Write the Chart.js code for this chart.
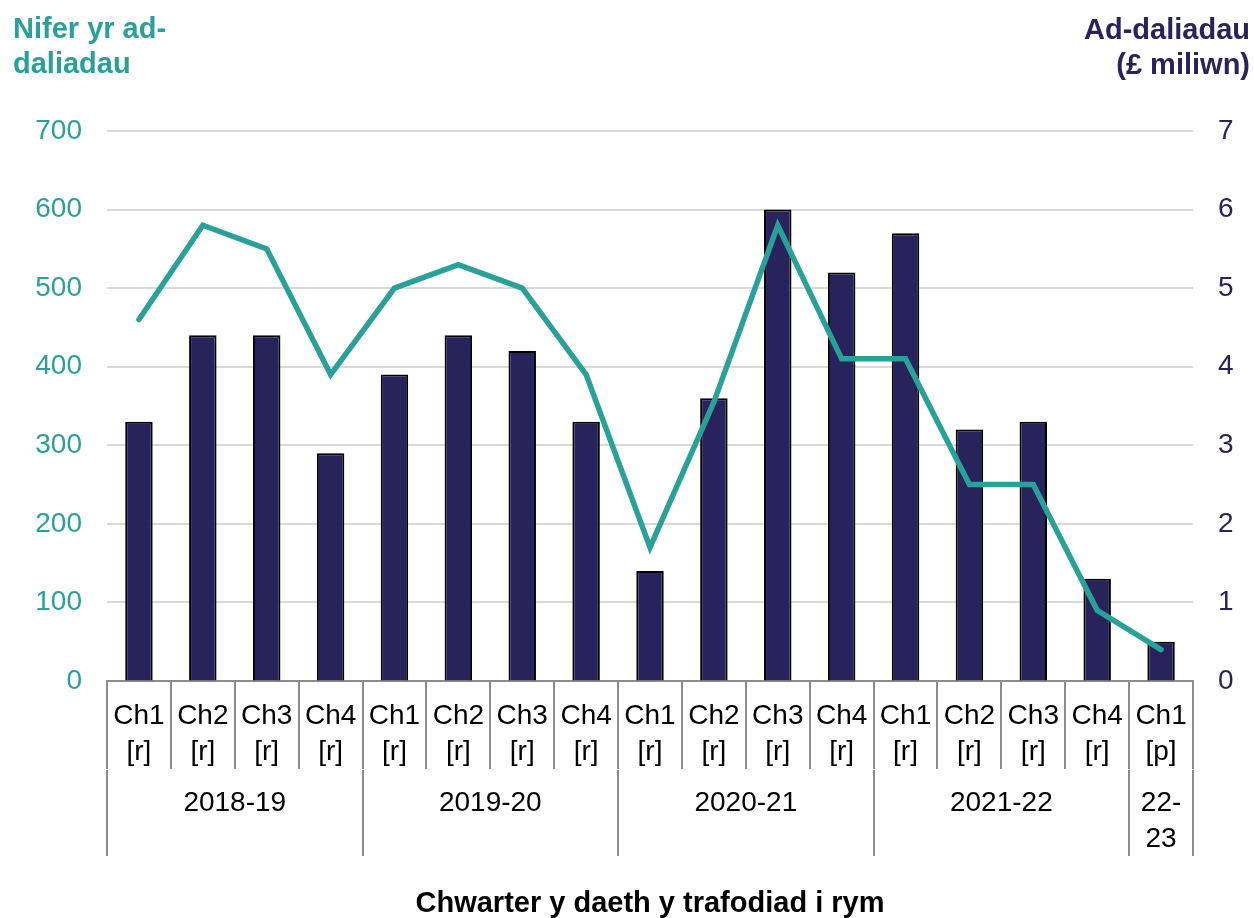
<!DOCTYPE html>
<html>
<head>
<meta charset="utf-8">
<script src="https://cdn.jsdelivr.net/npm/chart.js@4/dist/chart.umd.min.js"></script>
<style>
  html, body { margin: 0; padding: 0; background: #ffffff; }
  #wrap { width: 1254px; height: 918px; position: relative; }
</style>
</head>
<body>
<div id="wrap"><canvas id="c" width="1254" height="918"></canvas></div>
<script>
// ---- Data ----
const quarterLabels = [
  ['Ch1','[r]'],['Ch2','[r]'],['Ch3','[r]'],['Ch4','[r]'],
  ['Ch1','[r]'],['Ch2','[r]'],['Ch3','[r]'],['Ch4','[r]'],
  ['Ch1','[r]'],['Ch2','[r]'],['Ch3','[r]'],['Ch4','[r]'],
  ['Ch1','[r]'],['Ch2','[r]'],['Ch3','[r]'],['Ch4','[r]'],
  ['Ch1','[p]']
];
const yearLabels = ['2018-19','2019-20','2020-21','2021-22',['22-','23']];
const yearSpans = [4,4,4,4,1];
// Number of repayments (left axis)
const repaymentCount = [460,580,550,390,500,530,500,390,170,355,580,410,410,250,250,90,40];
// Repayments, £ million (right axis)
const repaymentMillions = [3.3,4.4,4.4,2.9,3.9,4.4,4.2,3.3,1.4,3.6,6.0,5.2,5.7,3.2,3.3,1.3,0.5];
const leftTitle = ['Nifer yr ad-','daliadau'];
const rightTitle = ['Ad-daliadau','(£ miliwn)'];
const xTitle = 'Chwarter y daeth y trafodiad i rym';

// ---- Styles ----
const TEAL = '#2aa198';
const NAVY = '#29235c';
const GRID = '#d9d9d9';
const AXIS = '#8c8c8c';
const FONT = "'Liberation Sans', Arial, sans-serif";

// year group boundaries and centres (in category index units)
const yearBounds = [-0.5];
const yearCentres = [];
{
  let start = -0.5;
  yearSpans.forEach(s => {
    yearCentres.push(start + s / 2);
    start += s;
    yearBounds.push(start);
  });
}

const titlesPlugin = {
  id: 'cornerTitles',
  afterDraw(chart) {
    const ctx = chart.ctx;
    ctx.save();
    ctx.font = "bold 29px " + FONT;
    ctx.textBaseline = 'alphabetic';
    ctx.fillStyle = TEAL;
    ctx.textAlign = 'left';
    leftTitle.forEach((t, i) => ctx.fillText(t, 13, 38 + i * 35));
    ctx.fillStyle = NAVY;
    ctx.textAlign = 'right';
    rightTitle.forEach((t, i) => ctx.fillText(t, 1250, 39 + i * 35));
    ctx.restore();
  }
};

new Chart(document.getElementById('c'), {
  type: 'bar',
  data: {
    labels: quarterLabels,
    datasets: [
      {
        type: 'line',
        label: 'Nifer yr ad-daliadau',
        data: repaymentCount,
        yAxisID: 'y',
        xAxisID: 'x',
        borderColor: TEAL,
        backgroundColor: TEAL,
        borderWidth: 5.5,
        pointRadius: 0,
        tension: 0,
        borderCapStyle: 'round',
        borderJoinStyle: 'miter',
        order: 0
      },
      {
        type: 'bar',
        label: 'Ad-daliadau (£ miliwn)',
        data: repaymentMillions,
        yAxisID: 'y1',
        xAxisID: 'x',
        backgroundColor: NAVY,
        borderColor: '#000000',
        borderWidth: 2,
        barPercentage: 0.43,
        categoryPercentage: 1,
        order: 1
      }
    ]
  },
  options: {
    responsive: false,
    animation: false,
    devicePixelRatio: 1,
    layout: { padding: { top: 131, left: 0, right: 0, bottom: 0 } },
    plugins: {
      legend: { display: false },
      tooltip: { enabled: false },
      title: { display: false }
    },
    scales: {
      x: {
        type: 'category',
        position: 'bottom',
        offset: true,
        weight: 0,
        grid: {
          offset: true,
          drawOnChartArea: false,
          drawTicks: true,
          tickLength: 88,
          color: AXIS,
          lineWidth: 2
        },
        border: { display: true, color: AXIS, width: 2 },
        ticks: {
          color: '#000000',
          font: { family: FONT, size: 28, lineHeight: 1.3 },
          padding: -71,
          maxRotation: 0,
          minRotation: 0,
          autoSkip: false
        },
        afterFit(s) { s.height = 89; }
      },
      x2: {
        type: 'linear',
        position: 'bottom',
        weight: 1,
        min: -0.5,
        max: 16.5,
        offset: false,
        afterBuildTicks(s) {
          const vals = yearBounds.concat(yearCentres).sort((a, b) => a - b);
          s.ticks = vals.map(v => ({ value: v }));
        },
        grid: {
          offset: false,
          drawOnChartArea: false,
          drawTicks: true,
          tickLength: 86,
          lineWidth: 2,
          color(ctx) {
            const v = ctx.tick ? ctx.tick.value : null;
            return yearBounds.includes(v) ? AXIS : 'rgba(0,0,0,0)';
          }
        },
        border: { display: false },
        ticks: {
          color: '#000000',
          font: { family: FONT, size: 28, lineHeight: 1.3 },
          padding: -71,
          maxRotation: 0,
          minRotation: 0,
          autoSkip: false,
          callback(v) {
            const i = yearCentres.indexOf(v);
            return i >= 0 ? yearLabels[i] : '';
          }
        },
        title: {
          display: true,
          text: xTitle,
          color: '#000000',
          font: { family: FONT, size: 29, weight: 'bold', lineHeight: 1.2 },
          padding: { top: 0, bottom: -3 }
        },
        afterFit(s) { s.height = 148; }
      },
      y: {
        type: 'linear',
        position: 'left',
        min: 0,
        max: 700,
        ticks: {
          stepSize: 100,
          color: TEAL,
          font: { family: FONT, size: 28 },
          padding: 25
        },
        grid: {
          color: GRID,
          lineWidth: 2,
          drawTicks: false
        },
        border: { display: false },
        afterFit(s) { s.width = 107; }
      },
      y1: {
        type: 'linear',
        position: 'right',
        min: 0,
        max: 7,
        ticks: {
          stepSize: 1,
          color: NAVY,
          font: { family: FONT, size: 28 },
          padding: 25
        },
        grid: { drawOnChartArea: false, drawTicks: false },
        border: { display: false },
        afterFit(s) { s.width = 61; }
      }
    }
  },
  plugins: [titlesPlugin]
});
</script>
</body>
</html>
